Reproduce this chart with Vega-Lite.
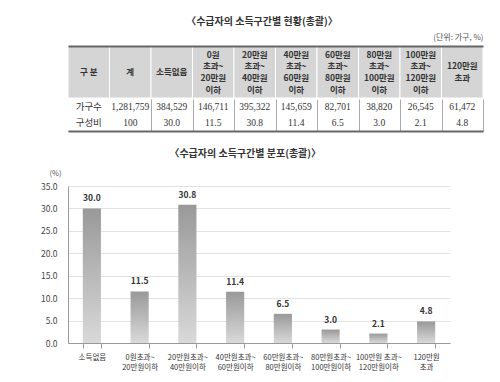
{
  "$schema": "https://vega.github.io/schema/vega-lite/v6.json",
  "padding": {"left": 40, "top": 16, "right": 5, "bottom": 0},
  "background": "white",
  "config": {
    "view": {"stroke": null},
    "font": "Noto Sans CJK KR",
    "title": {"font": "Noto Sans CJK KR", "color": "#333"}
  },
  "title": {"text": "〈수급자의 소득구간별 현황(총괄)〉", "anchor": "middle", "fontSize": 10, "fontWeight": "bold", "offset": 7},
  "concat": [
    {
      "vconcat": [
        {
          "width": 415,
          "height": 52,
          "title": {"text": "(단위: 가구, %)", "anchor": "end", "fontSize": 8, "fontWeight": "normal", "color": "#555", "offset": 4},
          "data": {"values": [
            {"col": 1, "n": 1, "h": ["구  분"]},
            {"col": 2, "n": 1, "h": ["계"]},
            {"col": 3, "n": 1, "h": ["소득없음"]},
            {"col": 4, "n": 4, "h": ["0원", "초과~", "20만원", "이하"]},
            {"col": 5, "n": 4, "h": ["20만원", "초과~", "40만원", "이하"]},
            {"col": 6, "n": 4, "h": ["40만원", "초과~", "60만원", "이하"]},
            {"col": 7, "n": 4, "h": ["60만원", "초과~", "80만원", "이하"]},
            {"col": 8, "n": 4, "h": ["80만원", "초과~", "100만원", "이하"]},
            {"col": 9, "n": 4, "h": ["100만원", "초과~", "120만원", "이하"]},
            {"col": 10, "n": 2, "h": ["120만원", "초과"]}
          ]},
          "encoding": {
            "x": {"field": "col", "type": "ordinal", "scale": {"paddingInner": 0, "paddingOuter": 0},
                  "axis": {"orient": "top", "labels": false, "ticks": false, "grid": false, "domainColor": "#666", "domainWidth": 2, "title": null, "zindex": 1}}
          },
          "layer": [
            {"mark": {"type": "rect", "fill": "#d5d5d5", "stroke": "white", "strokeWidth": 1}, "encoding": {}},
            {"transform": [{"filter": "datum.n == 1"}],
             "mark": {"type": "text", "lineHeight": 11.7, "fontSize": 8.5, "fontWeight": "bold", "color": "#333"},
             "encoding": {"text": {"field": "h"}}},
            {"transform": [{"filter": "datum.n == 2"}],
             "mark": {"type": "text", "lineHeight": 11.7, "dy": -5.85, "fontSize": 8.5, "fontWeight": "bold", "color": "#333"},
             "encoding": {"text": {"field": "h"}}},
            {"transform": [{"filter": "datum.n == 4"}],
             "mark": {"type": "text", "lineHeight": 11.7, "dy": -17.5, "fontSize": 8.5, "fontWeight": "bold", "color": "#333"},
             "encoding": {"text": {"field": "h"}}}
          ]
        },
        {
          "width": 415,
          "height": 32,
          "data": {"values": [
            {"row": "가구수", "col": 1, "v": "가구수"},
            {"row": "가구수", "col": 2, "v": "1,281,759"},
            {"row": "가구수", "col": 3, "v": "384,529"},
            {"row": "가구수", "col": 4, "v": "146,711"},
            {"row": "가구수", "col": 5, "v": "395,322"},
            {"row": "가구수", "col": 6, "v": "145,659"},
            {"row": "가구수", "col": 7, "v": "82,701"},
            {"row": "가구수", "col": 8, "v": "38,820"},
            {"row": "가구수", "col": 9, "v": "26,545"},
            {"row": "가구수", "col": 10, "v": "61,472"},
            {"row": "구성비", "col": 1, "v": "구성비"},
            {"row": "구성비", "col": 2, "v": "100"},
            {"row": "구성비", "col": 3, "v": "30.0"},
            {"row": "구성비", "col": 4, "v": "11.5"},
            {"row": "구성비", "col": 5, "v": "30.8"},
            {"row": "구성비", "col": 6, "v": "11.4"},
            {"row": "구성비", "col": 7, "v": "6.5"},
            {"row": "구성비", "col": 8, "v": "3.0"},
            {"row": "구성비", "col": 9, "v": "2.1"},
            {"row": "구성비", "col": 10, "v": "4.8"}
          ]},
          "mark": {"type": "text", "font": "Liberation Serif, Noto Sans CJK KR", "fontSize": 9.5, "color": "#333"},
          "encoding": {
            "x": {"field": "col", "type": "ordinal", "scale": {"paddingInner": 0, "paddingOuter": 0},
                  "axis": {"orient": "bottom", "labels": false, "ticks": false, "grid": true, "tickBand": "extent",
                           "gridColor": {"condition": {"test": "datum.value === 1 || datum.extra", "value": "transparent"}, "value": "#aaa"},
                           "domainColor": "#666", "domainWidth": 2, "title": null}},
            "y": {"field": "row", "type": "ordinal", "sort": ["가구수", "구성비"], "scale": {"paddingInner": 0, "paddingOuter": 0},
                  "axis": {"labels": false, "ticks": false, "domain": false, "grid": true, "tickBand": "extent",
                           "gridColor": {"condition": {"test": "datum.value === '가구수' || datum.extra", "value": "transparent"}, "value": "#aaa"},
                           "title": null}},
            "text": {"field": "v"}
          }
        }
      ],
      "spacing": 0
    },
    {
      "width": 382,
      "height": 157,
      "title": {"text": "〈수급자의 소득구간별 분포(총괄)〉", "anchor": "middle", "frame": "bounds", "fontSize": 10, "fontWeight": "bold", "offset": 10},
      "data": {"values": [
        {"cat": "소득없음", "pct": 30.0},
        {"cat": "0원초과~\n20만원이하", "pct": 11.5},
        {"cat": "20만원초과~\n40만원이하", "pct": 30.8},
        {"cat": "40만원초과~\n60만원이하", "pct": 11.4},
        {"cat": "60만원초과~\n80만원이하", "pct": 6.5},
        {"cat": "80만원초과~\n100만원이하", "pct": 3.0},
        {"cat": "100만원 초과~\n120만원이하", "pct": 2.1},
        {"cat": "120만원\n초과", "pct": 4.8}
      ]},
      "encoding": {
        "x": {"field": "cat", "type": "nominal", "sort": null, "scale": {"paddingInner": 0.62, "paddingOuter": 0.31},
              "axis": {"title": null, "labelAngle": 0, "labelExpr": "split(datum.label, '\\n')", "labelFontSize": 7.5, "labelColor": "#333",
                       "labelLineHeight": 10.5, "labelPadding": 5, "tickBand": "extent", "tickSize": 5, "tickColor": "#999", "domainColor": "#999"}},
        "y": {"field": "pct", "type": "quantitative", "scale": {"domain": [0, 35]},
              "axis": {"values": [0, 5, 10, 15, 20, 25, 30, 35], "format": ".1f", "labelFontSize": 8.5, "labelColor": "#444", "labelPadding": 11,
                       "ticks": false, "domainColor": "#999", "gridColor": "#e2e2e2",
                       "title": "(%)", "titleAngle": 0, "titleAlign": "center", "titleBaseline": "middle", "titleX": -13, "titleY": -13,
                       "titleFontSize": 7.5, "titleFontWeight": "normal", "titleColor": "#555"}}
      },
      "layer": [
        {"mark": {"type": "bar", "color": {"gradient": "linear", "x1": 0, "y1": 0, "x2": 0, "y2": 1,
                   "stops": [{"offset": 0, "color": "#999999"}, {"offset": 1, "color": "#d9d9d9"}]}}},
        {"mark": {"type": "text", "baseline": "bottom", "dy": -5, "fontSize": 8.5, "fontWeight": "bold", "color": "#333"},
         "encoding": {"text": {"field": "pct", "type": "quantitative", "format": ".1f"}}}
      ]
    }
  ],
  "columns": 1,
  "align": "none",
  "spacing": 18
}
